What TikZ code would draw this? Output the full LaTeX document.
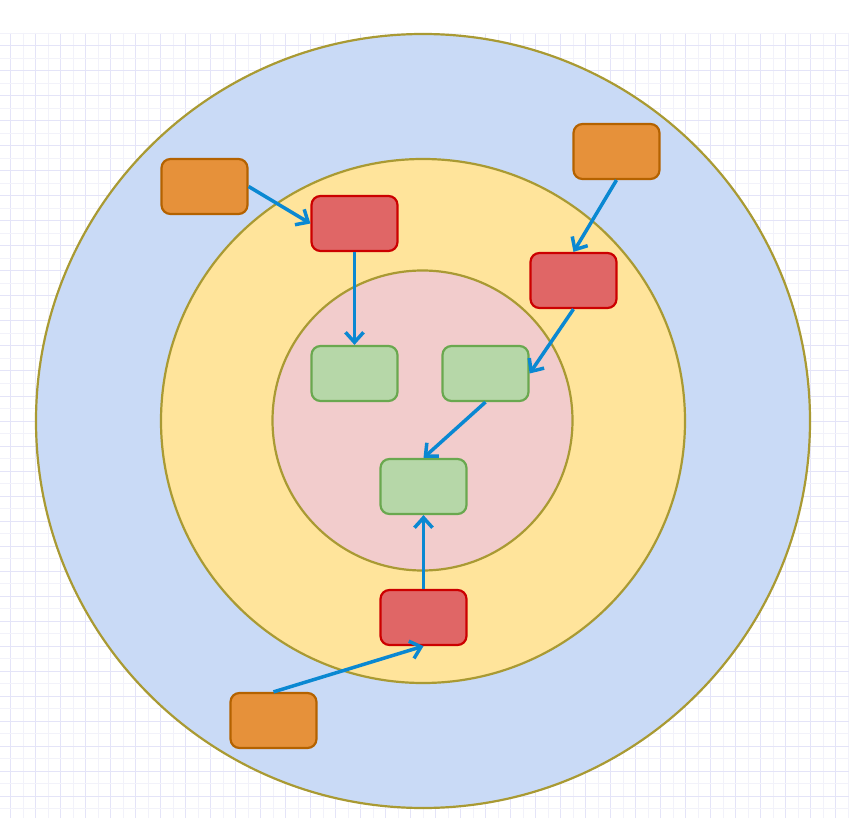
\documentclass[tikz,border=0pt]{standalone}
\usetikzlibrary{arrows.meta}
\definecolor{gridmaj}{HTML}{E4E4F8}
\definecolor{gridmin}{HTML}{F2F2FA}
\definecolor{outerfill}{HTML}{C9DAF6}
\definecolor{midfill}{HTML}{FFE49B}
\definecolor{innerfill}{HTML}{F2CCCC}
\definecolor{ringline}{HTML}{A99A33}
\definecolor{orfill}{HTML}{E6913A}
\definecolor{orline}{HTML}{B46200}
\definecolor{redfill}{HTML}{E06666}
\definecolor{redline}{HTML}{CC0000}
\definecolor{grfill}{HTML}{B6D7A8}
\definecolor{grline}{HTML}{6AA84F}
\definecolor{arrowc}{HTML}{0A88D2}
\tikzset{
  box/.style={rectangle, rounded corners=9pt, minimum width=86pt, minimum height=55pt, inner sep=0pt, line width=2.2pt},
  orbox/.style={box, fill=orfill, draw=orline},
  redbox/.style={box, fill=redfill, draw=redline},
  grbox/.style={box, fill=grfill, draw=grline},
  ring/.style={draw=ringline, line width=2.2pt},
  conn/.style={draw=arrowc, line width=3.5pt, -{Straight Barb[length=10pt,width=18pt,line width=3.5pt]}},
}
\begin{document}
\begin{tikzpicture}[x=1pt,y=-1pt]
\useasboundingbox (0,0) rectangle (849,818);
\fill[white] (0,0) rectangle (849,818);
% grid
\begin{scope}
\clip (0,33) rectangle (849,818);
\foreach \i in {0,...,67} {
  \pgfmathsetmacro{\xx}{10.5+12.5*\i}
  \ifodd\i
    \draw[gridmin, line width=1pt] (\xx,33) -- (\xx,818);
  \else
    \draw[gridmaj, line width=1pt] (\xx,33) -- (\xx,818);
  \fi
}
\foreach \i in {0,...,63} {
  \pgfmathsetmacro{\yy}{33.5+12.5*\i}
  \ifodd\i
    \draw[gridmaj, line width=1pt] (0,\yy) -- (849,\yy);
  \else
    \draw[gridmin, line width=1pt] (0,\yy) -- (849,\yy);
  \fi
}
\end{scope}
% rings
\coordinate (c) at (423,421);
\path[ring, fill=outerfill] (c) circle[radius=387pt];
\path[ring, fill=midfill] (c) circle[radius=262pt];
\path[ring, fill=innerfill] (422.5,420.5) circle[radius=150pt];
% boxes
\node[orbox] (o1) at (204.5,186.5) {};
\node[orbox] (o2) at (616.5,151.5) {};
\node[orbox] (o3) at (273.5,720.5) {};
\node[redbox] (r1) at (354.5,223.5) {};
\node[redbox] (r2) at (573.5,280.5) {};
\node[redbox] (r3) at (423.5,617.5) {};
\node[grbox] (g1) at (354.5,373.5) {};
\node[grbox] (g2) at (485.5,373.5) {};
\node[grbox] (g3) at (423.5,486.5) {};
% connectors
\draw[conn] (o1.east) -- (r1.west);
\draw[conn] (o2.south) -- (r2.north);
\draw[conn] (r1.south) -- (g1.north);
\draw[conn] (r2.south) -- (g2.east);
\draw[conn] (g2.south) -- (g3.north);
\draw[conn] (r3.north) -- (g3.south);
\draw[conn] (o3.north) -- (r3.south);
\end{tikzpicture}
\end{document}
